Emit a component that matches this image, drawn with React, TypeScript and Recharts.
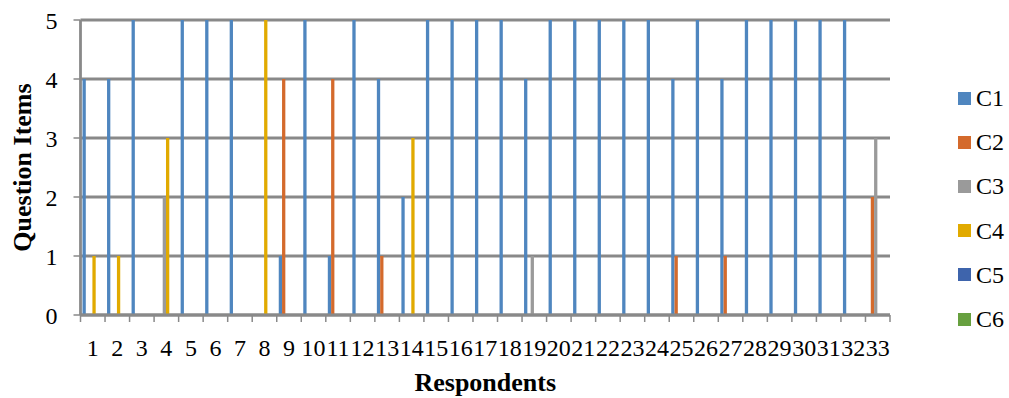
import { Bar, BarChart, CartesianGrid, Label, XAxis, YAxis } from "recharts";

// Answers per respondent (1..33) for each question item group
const respondents = Array.from({ length: 33 }, (_, i) => String(i + 1));
const c1 = [4, 4, 5, 0, 5, 5, 5, 0, 1, 5, 1, 5, 4, 2, 5, 5, 5, 5, 4, 5, 5, 5, 5, 5, 4, 5, 4, 5, 5, 5, 5, 5, 0];
const c2 = [0, 0, 0, 0, 0, 0, 0, 0, 4, 0, 4, 0, 1, 0, 0, 0, 0, 0, 0, 0, 0, 0, 0, 0, 1, 0, 1, 0, 0, 0, 0, 0, 2];
const c3 = [0, 0, 0, 2, 0, 0, 0, 0, 0, 0, 0, 0, 0, 0, 0, 0, 0, 0, 1, 0, 0, 0, 0, 0, 0, 0, 0, 0, 0, 0, 0, 0, 3];
const c4 = [1, 1, 0, 3, 0, 0, 0, 5, 0, 0, 0, 0, 0, 3, 0, 0, 0, 0, 0, 0, 0, 0, 0, 0, 0, 0, 0, 0, 0, 0, 0, 0, 0];
const c5 = [0, 0, 0, 0, 0, 0, 0, 0, 0, 0, 0, 0, 0, 0, 0, 0, 0, 0, 0, 0, 0, 0, 0, 0, 0, 0, 0, 0, 0, 0, 0, 0, 0];
const c6 = [0, 0, 0, 0, 0, 0, 0, 0, 0, 0, 0, 0, 0, 0, 0, 0, 0, 0, 0, 0, 0, 0, 0, 0, 0, 0, 0, 0, 0, 0, 0, 0, 0];
const yTicks = [0, 1, 2, 3, 4, 5];

const series = [
  { key: "C1", values: c1, color: "#4f86bf" },
  { key: "C2", values: c2, color: "#d46a2c" },
  { key: "C3", values: c3, color: "#9a9a9a" },
  { key: "C4", values: c4, color: "#e1aa00" },
  { key: "C5", values: c5, color: "#3e64ac" },
  { key: "C6", values: c6, color: "#67a03f" },
];

const data = respondents.map((name, i) => {
  const row: Record<string, string | number> = { name };
  series.forEach((s) => {
    row[s.key] = s.values[i];
  });
  return row;
});

const FONT = "'Liberation Serif', 'Times New Roman', serif";
const AXIS = "#898989";

// label at the band centre, tick marks on the band edges
function EdgeTick(props: any) {
  const { x, y, payload, index, visibleTicksCount } = props;
  const half = payload.offset ?? 0;
  return (
    <g>
      <line x1={x - half} x2={x - half} y1={y} y2={y + 7} stroke={AXIS} strokeWidth={1.5} />
      {index === visibleTicksCount - 1 && (
        <line x1={x + half} x2={x + half} y1={y} y2={y + 7} stroke={AXIS} strokeWidth={1.5} />
      )}
      <text x={x} y={y + 41} textAnchor="middle" fontSize={24} fontFamily={FONT} fill="#000">
        {payload.value}
      </text>
    </g>
  );
}

export default function App() {
  return (
    <div style={{ position: "fixed", left: 0, top: 0, width: 1009, height: 398, background: "#fff", fontFamily: FONT }}>
      <BarChart
        width={1009}
        height={398}
        data={data}
        margin={{ top: 20, right: 119, bottom: 0, left: 0 }}
        barCategoryGap="9.5%"
        barGap={0}
      >
        <CartesianGrid vertical={false} stroke={AXIS} strokeWidth={2.8} />
        <XAxis
          dataKey="name"
          interval={0}
          height={83}
          tickSize={0}
          tickMargin={0}
          tickLine={false}
          axisLine={{ stroke: AXIS, strokeWidth: 2.8 }}
          tick={<EdgeTick />}
        >
          <Label
            content={({ viewBox }: any) => (
              <text
                x={viewBox.x + viewBox.width / 2}
                y={391}
                textAnchor="middle"
                fontSize={26}
                fontWeight="bold"
                fontFamily={FONT}
                fill="#000"
              >
                Respondents
              </text>
            )}
          />
        </XAxis>
        <YAxis
          width={80.5}
          domain={[0, 5]}
          ticks={yTicks}
          tickSize={7}
          tickMargin={16}
          tickLine={{ stroke: AXIS, strokeWidth: 1.5 }}
          axisLine={{ stroke: AXIS, strokeWidth: 2.8 }}
          tick={{ fontSize: 24, fontFamily: FONT, fill: "#000" }}
        >
          <Label
            content={({ viewBox }: any) => {
              const cx = 22;
              const cy = viewBox.y + viewBox.height / 2;
              return (
                <text
                  x={cx}
                  y={cy}
                  transform={`rotate(-90 ${cx} ${cy})`}
                  textAnchor="middle"
                  dominantBaseline="central"
                  fontSize={26}
                  fontWeight="bold"
                  fontFamily={FONT}
                  fill="#000"
                >
                  Question Items
                </text>
              );
            }}
          />
        </YAxis>
        {series.map((s) => (
          <Bar key={s.key} dataKey={s.key} fill={s.color} barSize={3.3} isAnimationActive={false} />
        ))}
      </BarChart>
      <div style={{ position: "absolute", left: 958, top: 76 }}>
        {series.map((s) => (
          <div key={s.key} style={{ height: 44.2, display: "flex", alignItems: "center" }}>
            <span style={{ width: 13, height: 13, background: s.color, display: "inline-block", marginRight: 5 }} />
            <span style={{ fontSize: 24, lineHeight: "24px", color: "#000" }}>{s.key}</span>
          </div>
        ))}
      </div>
    </div>
  );
}
